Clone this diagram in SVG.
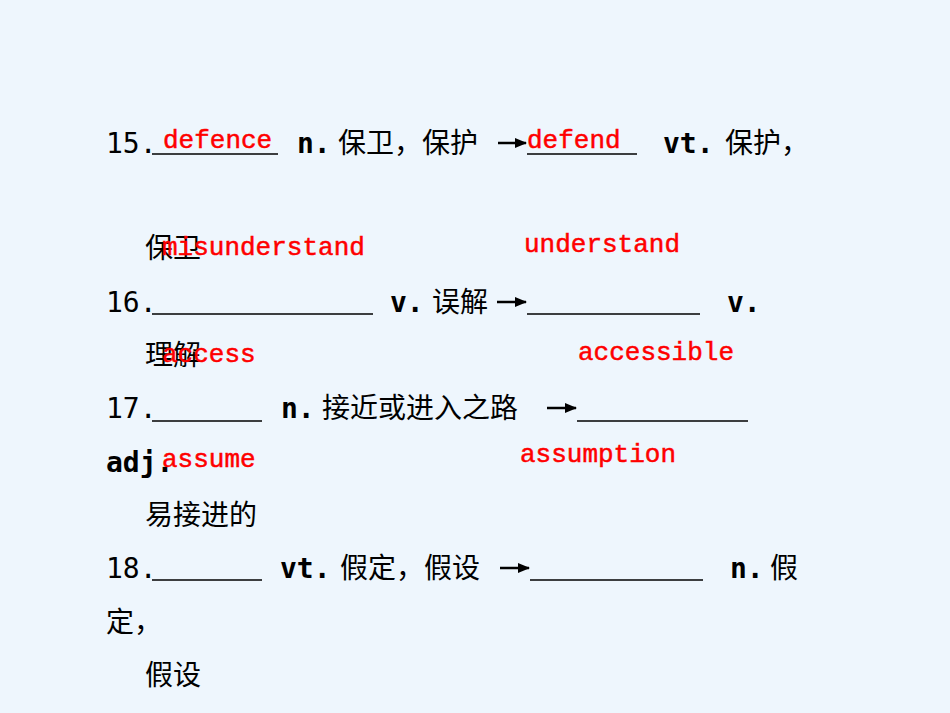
<svg xmlns="http://www.w3.org/2000/svg" width="950" height="713" viewBox="0 0 950 713">
<defs>
<marker id="ah" markerWidth="12" markerHeight="10" refX="11" refY="5" orient="auto" markerUnits="userSpaceOnUse"><path d="M0,0 L12,5 L0,10 Z" fill="#000"/></marker>
</defs>
<style>
.t{font-family:"DejaVu Sans Mono","Noto Sans CJK SC",monospace;font-size:28px;fill:#000}
.b{font-weight:bold}
.r{font-family:"Liberation Mono","DejaVu Sans Mono",monospace;font-size:26px;fill:#f00;stroke:#f00;stroke-width:0.5}
.u{stroke:#000;stroke-width:1.5}
.a{stroke:#000;stroke-width:2.5}
</style>
<rect width="950" height="713" fill="#eef6fd"/>
<g id="lines" class="u">
<line x1="152" y1="154" x2="278" y2="154"/>
<line x1="527" y1="154" x2="637" y2="154"/>
<line x1="152" y1="314" x2="373" y2="314"/>
<line x1="527" y1="314" x2="700" y2="314"/>
<line x1="152" y1="421" x2="262" y2="421"/>
<line x1="577" y1="421" x2="748" y2="421"/>
<line x1="152" y1="580" x2="262" y2="580"/>
<line x1="530" y1="580" x2="703" y2="580"/>
</g>
<g id="arrows" class="a">
<line x1="498" y1="143" x2="526" y2="143" marker-end="url(#ah)"/>
<line x1="497" y1="302" x2="526" y2="302" marker-end="url(#ah)"/>
<line x1="547" y1="408" x2="576" y2="408" marker-end="url(#ah)"/>
<line x1="500" y1="568" x2="529" y2="568" marker-end="url(#ah)"/>
</g>
<g id="text">
<text class="t" x="106" y="153">15.</text>
<text class="t b" x="297" y="153">n.</text>
<text class="t" x="338" y="153">保卫，保护</text>
<text class="t b" x="663" y="153">vt.</text>
<text class="t" x="725" y="153">保护，</text>
<text class="t" x="145" y="258">保卫</text>
<text class="t" x="106" y="312">16.</text>
<text class="t b" x="390" y="312">v.</text>
<text class="t" x="432" y="312">误解</text>
<text class="t b" x="727" y="312">v.</text>
<text class="t" x="145" y="365">理解</text>
<text class="t" x="106" y="418">17.</text>
<text class="t b" x="281" y="418">n.</text>
<text class="t" x="322" y="418">接近或进入之路</text>
<text class="t b" x="106" y="472">adj.</text>
<text class="t" x="145" y="525">易接进的</text>
<text class="t" x="106" y="578">18.</text>
<text class="t b" x="280" y="578">vt.</text>
<text class="t" x="340" y="578">假定，假设</text>
<text class="t b" x="730" y="578">n.</text>
<text class="t" x="770" y="578">假</text>
<text class="t" x="106" y="632">定，</text>
<text class="t" x="145" y="685">假设</text>
</g>
<g id="answers">
<text class="r" x="163" y="148">defence</text>
<text class="r" x="527" y="148">defend</text>
<text class="r" x="162" y="255">misunderstand</text>
<text class="r" x="524" y="252">understand</text>
<text class="r" x="162" y="362">access</text>
<text class="r" x="578" y="360">accessible</text>
<text class="r" x="162" y="467">assume</text>
<text class="r" x="520" y="462">assumption</text>
</g>
</svg>
